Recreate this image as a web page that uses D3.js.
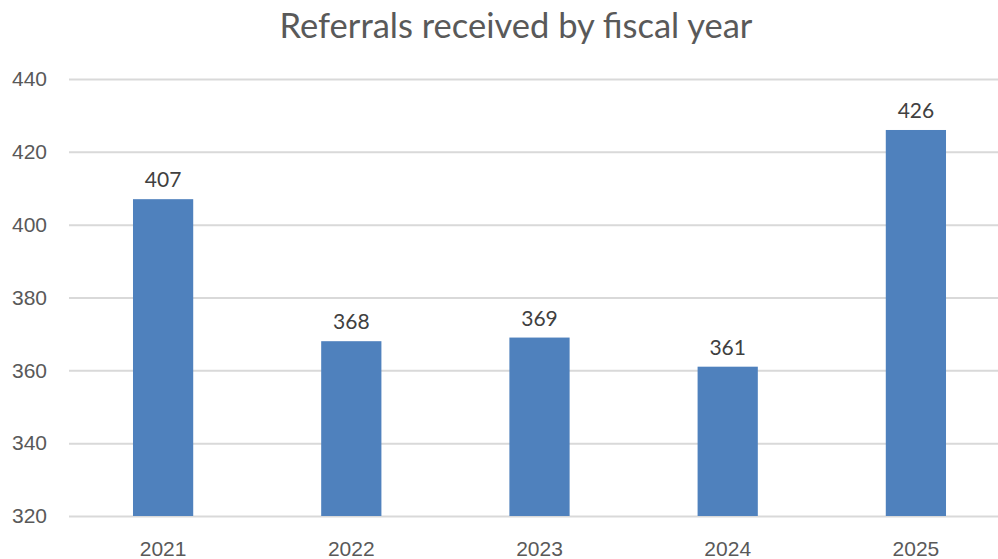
<!DOCTYPE html>
<html><head>
<meta charset="utf-8">
<script src="https://d3js.org/d3.v7.min.js"></script>
<style>
  body { margin: 0; background: #fff; }
  svg { display: block; font-family: Lato, "Open Sans", sans-serif; }
  .gridlines line { stroke: #d9d9d9; stroke-width: 2; }
  .gridlines .domain { stroke: none; }
  .axis .domain, .axis line { stroke: none; }
  .axis text { fill: #595959; font-size: 21px; }
</style>
</head>
<body>
<svg id="chart" width="998" height="559"></svg>
<script>
  // chart data
  const years = ['2021', '2022', '2023', '2024', '2025'];
  const referrals = [407, 368, 369, 361, 426];
  const yTicks = [320, 340, 360, 380, 400, 420, 440];

  const svg = d3.select('svg#chart');
  const margins = {top: 79, right: -12, bottom: 43, left: 69};
  const chartWidth = 998 - margins.left - margins.right;
  const chartHeight = 559 - margins.top - margins.bottom;

  const chartArea = svg.append('g')
    .attr('transform', `translate(${margins.left}, ${margins.top})`);

  const xScale = d3.scaleBand().domain(years).range([0, chartWidth]).paddingInner(0.68).paddingOuter(0.34);
  const yScale = d3.scaleLinear().domain([320, 440]).range([chartHeight, 0]);

  // gridlines
  chartArea.append('g')
    .attr('class', 'gridlines')
    .call(d3.axisLeft(yScale).tickValues(yTicks).tickSize(-chartWidth).tickFormat(''));

  // y axis labels
  svg.append('g')
    .attr('class', 'y axis')
    .attr('transform', `translate(${margins.left - 22}, ${margins.top})`)
    .call(d3.axisLeft(yScale).tickValues(yTicks).tickSize(0).tickPadding(0));

  // x axis labels
  svg.append('g')
    .attr('class', 'x axis')
    .attr('transform', `translate(${margins.left}, ${margins.top + chartHeight + 17})`)
    .call(d3.axisBottom(xScale).tickSize(0).tickPadding(8));

  const data = years.map((y, i) => ({year: y, value: referrals[i]}));

  chartArea.selectAll('rect.bar')
    .data(data)
    .join('rect')
    .attr('class', 'bar')
    .attr('x', d => xScale(d.year))
    .attr('width', xScale.bandwidth())
    .attr('y', d => yScale(d.value))
    .attr('height', d => chartHeight - yScale(d.value))
    .style('fill', '#4f81bd');

  chartArea.selectAll('text.label')
    .data(data)
    .join('text')
    .attr('class', 'label')
    .attr('x', d => xScale(d.year) + xScale.bandwidth() / 2)
    .attr('y', d => yScale(d.value) - 12)
    .attr('text-anchor', 'middle')
    .style('fill', '#404040')
    .style('font-size', '21px')
    .text(d => d.value);

  // title
  svg.append('text')
    .attr('x', 516)
    .attr('y', 38)
    .attr('text-anchor', 'middle')
    .style('fill', '#595959')
    .style('font-size', '34.5px')
    .text('Referrals received by fiscal year');
</script>
</body>
</html>
